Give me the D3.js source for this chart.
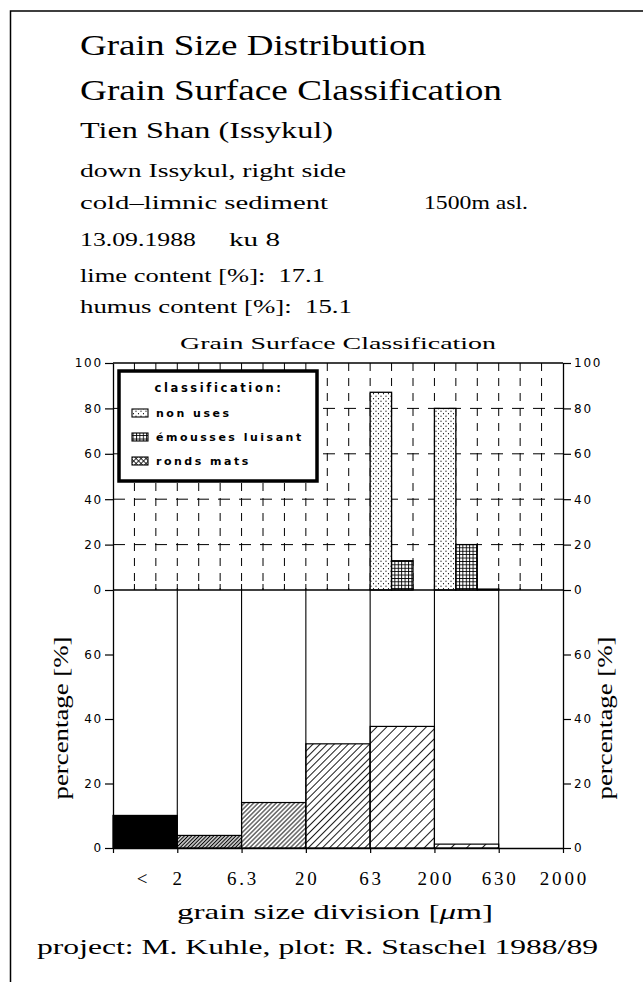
<!doctype html>
<html>
<head>
<meta charset="UTF-8">
<title>Grain Size Distribution</title>
<script src="https://cdn.jsdelivr.net/npm/d3@7"></script>
<style>
  body { margin: 0; background: #fff; }
  text { fill: #000; white-space: pre; }
</style>
</head>
<body>
<script>
// ---- data ----
var sizeBins = ["<2", "2-6.3", "6.3-20", "20-63", "63-200", "200-630", "630-2000"];
var sizeTicks = ["", "2", "6.3", "20", "63", "200", "630", "2000"];
var sizeShare = [10.1, 3.9, 14.1, 32.3, 37.7, 1.2, 0];

var classes = ["non uses", "émousses luisant", "ronds mats"];
var nonUses = [0, 0, 0, 0, 87.1, 80, 0];
var emousses = [0, 0, 0, 0, 12.9, 20, 0];
var rondsMats = [0, 0, 0, 0, 0, 0.4, 0];

var topTicks = [0, 20, 40, 60, 80, 100];
var topGrid = [20, 40, 60, 80];
var bottomTicks = [0, 20, 40, 60];

var header = ["Grain Size Distribution", "Grain Surface Classification", "Tien Shan (Issykul)",
  "down Issykul, right side", "cold\u2013limnic sediment", "1500m asl.", "13.09.1988", "ku 8",
  "lime content [%]:  17.1", "humus content [%]:  15.1"];
var chartTitle = "Grain Surface Classification";
var legendTitle = "classification:";
var yTitle = "percentage [%]";
var footer = "project: M. Kuhle, plot: R. Staschel 1988/89";

// ---- layout ----
var w = 643, h = 982;
var serif = "'Liberation Serif', serif";
var sans = "'DejaVu Sans', sans-serif";

var svg = d3.select("body").append("svg").attr("width", w).attr("height", h);

var x0 = 113, x1 = 563;
var xBin = d3.scaleBand().domain(sizeBins).range([x0, x1]);
var xCls = d3.scaleBand().domain(classes).range([0, xBin.bandwidth()]);
var xEdge = d3.scalePoint().domain(sizeTicks).range([x0, x1]);
var yTop = d3.scaleLinear().domain([0, 100]).range([590, 363]);
var yBot = d3.scaleLinear().domain([0, 80]).range([848, 590]);

// patterns
var defs = svg.append("defs");
function hatch(id, step, sw) {
  var p = defs.append("pattern").attr("id", id).attr("patternUnits", "userSpaceOnUse")
    .attr("width", step).attr("height", step).attr("patternTransform", "rotate(45)");
  p.append("rect").attr("width", step).attr("height", step).attr("fill", "#fff");
  p.append("line").attr("x1", step / 2).attr("x2", step / 2).attr("y1", 0).attr("y2", step)
    .attr("stroke", "#000").attr("stroke-width", sw);
}
hatch("h1", 2.6, 1.3);
hatch("h2", 3.2, 0.9);
hatch("h3", 5, 0.9);
hatch("h4", 7, 0.9);
hatch("h5", 11, 0.9);

var dots = defs.append("pattern").attr("id", "dots").attr("patternUnits", "userSpaceOnUse")
  .attr("width", 5).attr("height", 5);
dots.append("rect").attr("width", 5).attr("height", 5).attr("fill", "#fff");
dots.append("circle").attr("cx", 1).attr("cy", 1.2).attr("r", 0.6).attr("fill", "#000");
dots.append("circle").attr("cx", 3.5).attr("cy", 3.7).attr("r", 0.6).attr("fill", "#000");

var grid = defs.append("pattern").attr("id", "grid").attr("patternUnits", "userSpaceOnUse")
  .attr("width", 3.4).attr("height", 3.4);
grid.append("rect").attr("width", 3.4).attr("height", 3.4).attr("fill", "#fff");
grid.append("path").attr("d", "M0,0.5H3.4M0.5,0V3.4").attr("stroke", "#000").attr("stroke-width", 0.9);

var cross = defs.append("pattern").attr("id", "cross").attr("patternUnits", "userSpaceOnUse")
  .attr("width", 3.5).attr("height", 3.5).attr("patternTransform", "rotate(45)");
cross.append("rect").attr("width", 3.5).attr("height", 3.5).attr("fill", "#fff");
cross.append("path").attr("d", "M0,0.5H3.5M0.5,0V3.5").attr("stroke", "#000").attr("stroke-width", 0.8);

var classFill = ["url(#dots)", "url(#grid)", "url(#cross)"];
var binFill = ["#000", "url(#h1)", "url(#h2)", "url(#h3)", "url(#h4)", "url(#h5)", "url(#h5)"];

function label(sel, str, x, y, size, family, anchor, len) {
  var t = sel.append("text").attr("x", x).attr("y", y).attr("font-size", size)
    .attr("font-family", family).attr("text-anchor", anchor || "start").text(str);
  if (len) t.attr("textLength", len).attr("lengthAdjust", "spacingAndGlyphs");
  return t;
}

// frame
svg.append("path").attr("d", "M10.5," + h + "V11H" + w).attr("fill", "none")
  .attr("stroke", "#000").attr("stroke-width", 1.5);

// header text
var hx = [80, 80, 80, 80, 80, 424, 80, 229, 80, 80];
var hy = [55, 100, 138, 177, 209, 209, 246, 246, 282, 313];
var hs = [29, 29, 23, 19, 19, 19, 19, 19, 19, 19];
var hw = [346, 422, 253, 266, 248, 104, 116, 51, 245, 272];
header.forEach(function (s, i) { label(svg, s, hx[i], hy[i], hs[i], serif, "start", hw[i]); });

label(svg, chartTitle, (x0 + x1) / 2, 349, 17, serif, "middle", 316);

// ---- top chart: grain surface classification ----
var topG = svg.append("g");

topG.selectAll(".hgrid").data(topGrid).enter().append("line")
  .attr("x1", x0).attr("x2", x1).attr("y1", yTop).attr("y2", yTop)
  .attr("stroke", "#000").attr("stroke-width", 1).attr("stroke-dasharray", "12,9");

var slots = [];
sizeBins.forEach(function (b) { classes.forEach(function (c) { slots.push(xBin(b) + xCls(c)); }); });

topG.selectAll(".vgrid").data(slots.slice(1)).enter().append("line")
  .attr("x1", function (d) { return d; }).attr("x2", function (d) { return d; })
  .attr("y1", yTop(100)).attr("y2", yTop(0))
  .attr("stroke", "#000").attr("stroke-width", 1).attr("stroke-dasharray", "8,7");

topG.selectAll(".stick").data(slots.slice(1)).enter().append("line")
  .attr("x1", function (d) { return d; }).attr("x2", function (d) { return d; })
  .attr("y1", yTop(0)).attr("y2", yTop(0) - 6)
  .attr("stroke", "#000").attr("stroke-width", 1);

[nonUses, emousses, rondsMats].forEach(function (series, k) {
  var rows = series.map(function (v, i) { return { bin: sizeBins[i], v: v }; })
    .filter(function (d) { return d.v > 0; });
  topG.selectAll(".bar" + k).data(rows).enter().append("rect")
    .attr("x", function (d) { return xBin(d.bin) + xCls(classes[k]); })
    .attr("width", xCls.bandwidth())
    .attr("y", function (d) { return yTop(d.v); })
    .attr("height", function (d) { return yTop(0) - yTop(d.v); })
    .attr("fill", classFill[k]).attr("stroke", "#000").attr("stroke-width", 1.3);
});

topG.append("line").attr("x1", x0).attr("x2", x1).attr("y1", yTop(100)).attr("y2", yTop(100))
  .attr("stroke", "#000").attr("stroke-width", 1.3);
topG.append("line").attr("x1", x0).attr("x2", x1).attr("y1", yTop(0)).attr("y2", yTop(0))
  .attr("stroke", "#000").attr("stroke-width", 1.3);

function styleAxis(g) {
  g.select(".domain").attr("stroke-width", 1.3);
  g.selectAll(".tick line").attr("stroke-width", 1.2);
  g.selectAll(".tick text").attr("font-family", sans).attr("font-size", 12)
    .attr("letter-spacing", 1.8).attr("fill", "#000");
}
topG.append("g").attr("transform", "translate(" + x0 + ",0)")
  .call(d3.axisLeft(yTop).tickValues(topTicks).tickSize(8).tickSizeOuter(0).tickPadding(2))
  .call(styleAxis);
topG.append("g").attr("transform", "translate(" + x1 + ",0)")
  .call(d3.axisRight(yTop).tickValues(topTicks).tickSize(8).tickSizeOuter(0).tickPadding(3))
  .call(styleAxis);

// legend
var leg = svg.append("g");
leg.append("rect").attr("x", 119).attr("y", 371).attr("width", 198).attr("height", 110)
  .attr("fill", "#fff").attr("stroke", "#000").attr("stroke-width", 3.5);
leg.append("text").attr("x", 219).attr("y", 392).attr("text-anchor", "middle")
  .attr("font-family", sans).attr("font-weight", "bold").attr("font-size", 11.5)
  .attr("letter-spacing", 2.6).text(legendTitle);
classes.forEach(function (c, k) {
  var y = 417 + k * 24;
  leg.append("rect").attr("x", 132).attr("y", y - 8).attr("width", 16).attr("height", 8)
    .attr("fill", classFill[k]).attr("stroke", "#000").attr("stroke-width", 1.1);
  leg.append("text").attr("x", 156).attr("y", y).attr("font-family", sans)
    .attr("font-weight", "bold").attr("font-size", 11).attr("letter-spacing", 2.5).text(c);
});

// ---- bottom chart: grain size distribution ----
var bot = svg.append("g");
var shareRows = sizeShare.map(function (v, i) { return { bin: sizeBins[i], v: v, i: i }; })
  .filter(function (d) { return d.v > 0; });

bot.selectAll(".sbar").data(shareRows).enter().append("rect")
  .attr("x", function (d) { return xBin(d.bin); })
  .attr("width", xBin.bandwidth())
  .attr("y", function (d) { return yBot(d.v); })
  .attr("height", function (d) { return yBot(0) - yBot(d.v); })
  .attr("fill", function (d) { return binFill[d.i]; })
  .attr("stroke", "#000").attr("stroke-width", 1.2);

bot.selectAll(".edge").data(sizeBins.slice(1)).enter().append("line")
  .attr("x1", function (d) { return xBin(d); }).attr("x2", function (d) { return xBin(d); })
  .attr("y1", yBot(80)).attr("y2", yBot(0))
  .attr("stroke", "#000").attr("stroke-width", 1.1);

bot.append("g").attr("transform", "translate(" + x0 + ",0)")
  .call(d3.axisLeft(yBot).tickValues(bottomTicks).tickSize(8).tickSizeOuter(0).tickPadding(2))
  .call(styleAxis);
bot.append("g").attr("transform", "translate(" + x1 + ",0)")
  .call(d3.axisRight(yBot).tickValues(bottomTicks).tickSize(8).tickSizeOuter(0).tickPadding(3))
  .call(styleAxis);

var xa = bot.append("g").attr("transform", "translate(0," + yBot(0) + ")")
  .call(d3.axisBottom(xEdge).tickSize(5).tickSizeOuter(0).tickFormat(""));
xa.select(".domain").attr("stroke-width", 1.3);
xa.selectAll(".tick line").attr("stroke-width", 1.2);

bot.selectAll(".xlab").data(sizeTicks.slice(1)).enter().append("text")
  .attr("x", function (d) { return xEdge(d) + 1.4; }).attr("y", 885)
  .attr("text-anchor", "middle").attr("font-family", serif).attr("font-size", 19)
  .attr("letter-spacing", 2.8).text(function (d) { return d; });
label(bot, "<", xBin(sizeBins[0]) + xBin.bandwidth() / 2 - 3, 885, 19, serif, "middle");

var xl = label(svg, "grain size division [", 335, 919, 22, serif, "middle", 316);
xl.append("tspan").attr("font-style", "italic").text("\u03bc");
xl.append("tspan").text("m]");

[68, 612].forEach(function (x) {
  svg.append("text").attr("transform", "translate(" + x + ",718) rotate(-90)")
    .attr("text-anchor", "middle").attr("font-family", serif).attr("font-size", 20)
    .attr("textLength", 163).attr("lengthAdjust", "spacingAndGlyphs").text(yTitle);
});

label(svg, footer, 37, 954, 20, serif, "start", 561);
</script>
</body>
</html>
